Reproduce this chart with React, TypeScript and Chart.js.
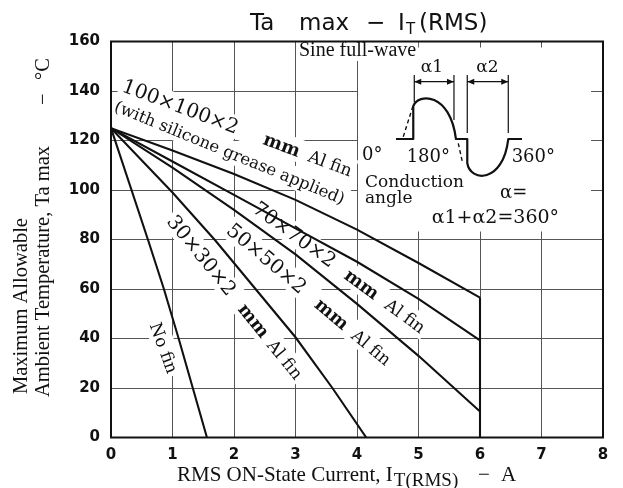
import React, { useEffect, useRef } from "react";
import { Chart, registerables } from "chart.js";

Chart.register(...registerables);

// ---- data ----
const currentMin = 0;
const currentMax = 8;
const currentStep = 1;
const tempMin = 0;
const tempMax = 160;
const tempStep = 20;

const noFinX = [0, 0.6, 0.86, 1.1, 1.33, 1.56];
const noFinY = [125, 80, 60, 40, 20, 0];
const fin30X = [0, 1, 1.7, 3, 3.6, 4.15];
const fin30Y = [125, 99, 79.5, 40.5, 20, 0];
const fin50X = [0, 1, 2, 3, 4, 5, 6];
const fin50Y = [125, 109, 92, 74, 54, 33, 10.5];
const fin70X = [0, 1, 2, 3, 4, 5, 6];
const fin70Y = [125, 111.5, 98, 84.5, 71, 56, 39.2];
const fin100X = [0, 1, 2, 3, 4, 5, 6];
const fin100Y = [125, 116, 106.5, 96, 84, 70.5, 56.5];
const limitX = [6, 6];
const limitY = [56.5, 0];

const SANS = '"DejaVu Sans", sans-serif';
const SERIF = '"DejaVu Serif", serif';
const TIMES = '"Liberation Serif", serif';
const INK = "#111";

type Part = { t: string; f: string; gap?: number; dy?: number };

function runParts(ctx: CanvasRenderingContext2D, parts: Part[], y: number, draw: boolean) {
  let x = 0;
  for (const p of parts) {
    x += p.gap || 0;
    ctx.font = p.f;
    if (draw) ctx.fillText(p.t, x, y + (p.dy || 0));
    x += ctx.measureText(p.t).width;
  }
  return x;
}

function drawLabel(
  ctx: CanvasRenderingContext2D,
  px: number,
  py: number,
  angleDeg: number,
  parts: Part[],
  align: "left" | "center" = "left",
  mask = true
) {
  ctx.save();
  ctx.translate(px, py);
  ctx.rotate((angleDeg * Math.PI) / 180);
  ctx.textAlign = "left";
  ctx.textBaseline = "alphabetic";
  const w = runParts(ctx, parts, 0, false);
  const x0 = align === "center" ? -w / 2 : 0;
  if (mask) {
    ctx.fillStyle = "#fff";
    ctx.fillRect(x0 - 3, -11, w + 6, 23);
  }
  ctx.fillStyle = INK;
  ctx.translate(x0, 0);
  runParts(ctx, parts, 7, true);
  ctx.restore();
}

function arrowHead(ctx: CanvasRenderingContext2D, x: number, y: number, dir: number) {
  ctx.beginPath();
  ctx.moveTo(x, y);
  ctx.lineTo(x - dir * 7, y - 3);
  ctx.lineTo(x - dir * 7, y + 3);
  ctx.closePath();
  ctx.fill();
}

const annotations = {
  id: "annotations",
  beforeDatasetsDraw(chart: any) {
    const ctx: CanvasRenderingContext2D = chart.ctx;
    const xs = chart.scales.x;
    const ys = chart.scales.y;
    const X = (v: number) => xs.getPixelForValue(v);
    const Y = (v: number) => ys.getPixelForValue(v);
    const ca = chart.chartArea;

    ctx.save();
    // inset panel background (hides grid inside, leaves edge stubs)
    ctx.fillStyle = "#fff";
    ctx.fillRect(X(4) + 1, ca.top + 6, ca.right - 12 - (X(4) + 1), Y(80) - 8 - (ca.top + 6));

    // curve labels
    const num = `20px ${SERIF}`;
    const mm = `bold 18px ${SERIF}`;
    const al = `17px ${SERIF}`;
    drawLabel(ctx, X(0.2), Y(142.6), 20.5, [
      { t: "100×100×2", f: num },
      { t: "mm", f: mm, gap: 28 },
      { t: "Al fin", f: al, gap: 10 },
    ]);
    drawLabel(ctx, X(0.08), Y(134.7), 22.3, [{ t: "(with silicone grease applied)", f: `16.5px ${SERIF}` }]);
    drawLabel(ctx, X(2.35), Y(93.7), 36, [
      { t: "70×70×2", f: num },
      { t: "mm", f: mm, gap: 16 },
      { t: "Al fin", f: al, gap: 12 },
    ]);
    drawLabel(ctx, X(1.932), Y(85.1), 40, [
      { t: "50×50×2", f: num },
      { t: "mm", f: mm, gap: 18 },
      { t: "Al fin", f: al, gap: 10 },
    ]);
    drawLabel(ctx, X(0.984), Y(89.0), 51, [
      { t: "30×30×2", f: num },
      { t: "mm", f: mm, gap: 16 },
      { t: "Al fin", f: al, gap: 8 },
    ]);
    drawLabel(ctx, X(0.88), Y(36.4), 70, [{ t: "No fin", f: `17px ${SERIF}` }], "center");

    // inset drawing, anchored at the wave origin
    const ox = X(4.915);
    const oy = Y(120.6);
    ctx.fillStyle = INK;
    ctx.textAlign = "left";
    ctx.textBaseline = "alphabetic";
    ctx.font = `20px ${TIMES}`;
    const sw = ctx.measureText("Sine full-wave").width;
    ctx.fillStyle = "#fff";
    ctx.fillRect(ox - 115.3 + 1, oy - 100, sw + 2, 22);
    ctx.fillStyle = INK;
    ctx.fillText("Sine full-wave", ox - 115.3 + 1, oy - 83);

    ctx.font = `17px ${SERIF}`;
    ctx.textAlign = "center";
    ctx.fillText("α1", ox + 18.7, oy - 67);
    ctx.fillText("α2", ox + 74.2, oy - 67);
    ctx.textAlign = "left";
    ctx.font = `18px ${SERIF}`;
    ctx.fillText("0°", ox - 51.3, oy + 21);
    ctx.fillText("180°", ox - 6.6, oy + 22.7);
    ctx.fillText("360°", ox + 98.4, oy + 22.7);
    ctx.font = `17px ${SERIF}`;
    ctx.fillText("Conduction", ox - 48.3, oy + 48);
    ctx.fillText("angle", ox - 48.3, oy + 64);
    ctx.font = `18px ${SERIF}`;
    ctx.fillText("α=", ox + 86.7, oy + 59);
    ctx.font = `19px ${SERIF}`;
    ctx.fillText("α1+α2=360°", ox + 18.4, oy + 84);

    // brackets and arrows
    ctx.strokeStyle = INK;
    ctx.lineWidth = 1.2;
    ctx.beginPath();
    ctx.moveTo(ox + 1, oy - 64);
    ctx.lineTo(ox + 1, oy - 37);
    ctx.moveTo(ox + 40.7, oy - 64);
    ctx.lineTo(ox + 40.7, oy - 19);
    ctx.moveTo(ox + 54, oy - 64);
    ctx.lineTo(ox + 54, oy - 6);
    ctx.moveTo(ox + 95, oy - 64);
    ctx.lineTo(ox + 95, oy - 6);
    ctx.moveTo(ox + 1, oy - 57.3);
    ctx.lineTo(ox + 40.7, oy - 57.3);
    ctx.moveTo(ox + 54, oy - 57.3);
    ctx.lineTo(ox + 95, oy - 57.3);
    ctx.stroke();
    arrowHead(ctx, ox + 1, oy - 57.3, -1);
    arrowHead(ctx, ox + 40.7, oy - 57.3, 1);
    arrowHead(ctx, ox + 54, oy - 57.3, -1);
    arrowHead(ctx, ox + 95, oy - 57.3, 1);

    // waveform
    ctx.lineWidth = 2.2;
    ctx.lineJoin = "round";
    ctx.beginPath();
    ctx.moveTo(ox - 17.3, oy);
    ctx.lineTo(ox, oy);
    ctx.lineTo(ox, oy - 33);
    ctx.bezierCurveTo(ox + 4.7, oy - 46, ox + 36.7, oy - 47, ox + 42.7, oy);
    ctx.lineTo(ox + 54, oy);
    ctx.lineTo(ox + 54, oy + 24);
    ctx.bezierCurveTo(ox + 56.7, oy + 43, ox + 89.7, oy + 45, ox + 95, oy);
    ctx.lineTo(ox + 108.7, oy);
    ctx.stroke();
    ctx.lineWidth = 1.4;
    ctx.setLineDash([4, 3]);
    ctx.beginPath();
    ctx.moveTo(ox - 10, oy - 2.3);
    ctx.lineTo(ox, oy - 34);
    ctx.moveTo(ox + 45, oy + 4.3);
    ctx.lineTo(ox + 49.4, oy + 24.3);
    ctx.stroke();
    ctx.setLineDash([]);
    ctx.restore();
  },
  afterDatasetsDraw(chart: any) {
    const ctx: CanvasRenderingContext2D = chart.ctx;
    const ca = chart.chartArea;
    ctx.save();
    ctx.strokeStyle = INK;
    ctx.lineWidth = 2;
    ctx.strokeRect(ca.left, ca.top, ca.right - ca.left, ca.bottom - ca.top);

    ctx.fillStyle = INK;
    ctx.textBaseline = "alphabetic";
    ctx.textAlign = "left";
    // chart title
    const tf = `23px ${SANS}`;
    ctx.font = tf;
    ctx.fillText("Ta", ca.left + 139, 30);
    ctx.fillText("max", ca.left + 188, 30);
    ctx.fillText("−", ca.left + 255, 30);
    ctx.fillText("I", ca.left + 287, 30);
    ctx.font = `15px ${SANS}`;
    ctx.fillText("T", ca.left + 295, 34);
    ctx.font = tf;
    ctx.fillText("(RMS)", ca.left + 308, 30);

    // x axis title
    ctx.font = `21px ${TIMES}`;
    const xt0 = 177;
    const main = "RMS ON-State Current, I";
    ctx.fillText(main, xt0, 481);
    const w0 = ctx.measureText(main).width;
    ctx.font = `19px ${TIMES}`;
    ctx.fillText("T(RMS)", xt0 + w0 + 1, 486);
    ctx.font = `21px ${TIMES}`;
    ctx.fillText("−", 478, 481);
    ctx.fillText("A", 501, 481);

    // y axis title (two rotated lines)
    ctx.save();
    ctx.translate(27, 394);
    ctx.rotate(-Math.PI / 2);
    ctx.font = `20.5px ${TIMES}`;
    ctx.fillText("Maximum Allowable", 0, 0);
    ctx.restore();
    ctx.save();
    ctx.translate(49, 397);
    ctx.rotate(-Math.PI / 2);
    ctx.font = `20.5px ${TIMES}`;
    ctx.fillText("Ambient Temperature, Ta max", 0, 0);
    ctx.fillText("−", 397 - 105, 0);
    ctx.fillText("°C", 397 - 80, 0);
    ctx.restore();
    ctx.restore();
  },
};

function pts(xs: number[], ys: number[]) {
  return xs.map((x, i) => ({ x, y: ys[i] }));
}

export default function App() {
  const ref = useRef<HTMLCanvasElement | null>(null);
  useEffect(() => {
    if (!ref.current) return;
    const series = [
      pts(noFinX, noFinY),
      pts(fin30X, fin30Y),
      pts(fin50X, fin50Y),
      pts(fin70X, fin70Y),
      pts(fin100X, fin100Y),
      pts(limitX, limitY),
    ];
    const tickFont = { family: SANS, size: 15, weight: "bold" as const };
    const chart = new Chart(ref.current, {
      type: "line",
      data: {
        datasets: series.map((d) => ({
          data: d,
          borderColor: INK,
          borderWidth: 2.1,
          pointRadius: 0,
          tension: 0,
          fill: false,
        })),
      },
      options: {
        animation: false,
        responsive: false,
        devicePixelRatio: 1,
        parsing: true,
        layout: { padding: { left: 0, right: 20, top: 41.5, bottom: 0 } },
        plugins: { legend: { display: false }, tooltip: { enabled: false }, title: { display: false } },
        scales: {
          x: {
            type: "linear",
            min: currentMin,
            max: currentMax,
            afterFit: (s: any) => {
              s.height = 50.5;
            },
            ticks: { stepSize: currentStep, font: tickFont, color: INK, padding: 9, maxRotation: 0 },
            grid: { color: "#555", lineWidth: 1, drawTicks: false },
            border: { display: false },
          },
          y: {
            type: "linear",
            min: tempMin,
            max: tempMax,
            afterFit: (s: any) => {
              s.width = 111;
            },
            ticks: { stepSize: tempStep, font: tickFont, color: INK, padding: 11 },
            grid: { color: "#555", lineWidth: 1, drawTicks: false },
            border: { display: false },
          },
        },
      } as any,
      plugins: [annotations],
    });
    return () => chart.destroy();
  }, []);
  return (
    <div style={{ position: "fixed", left: 0, top: 0, width: 623, height: 488, background: "#fff" }}>
      <canvas ref={ref} width={623} height={488} />
    </div>
  );
}
